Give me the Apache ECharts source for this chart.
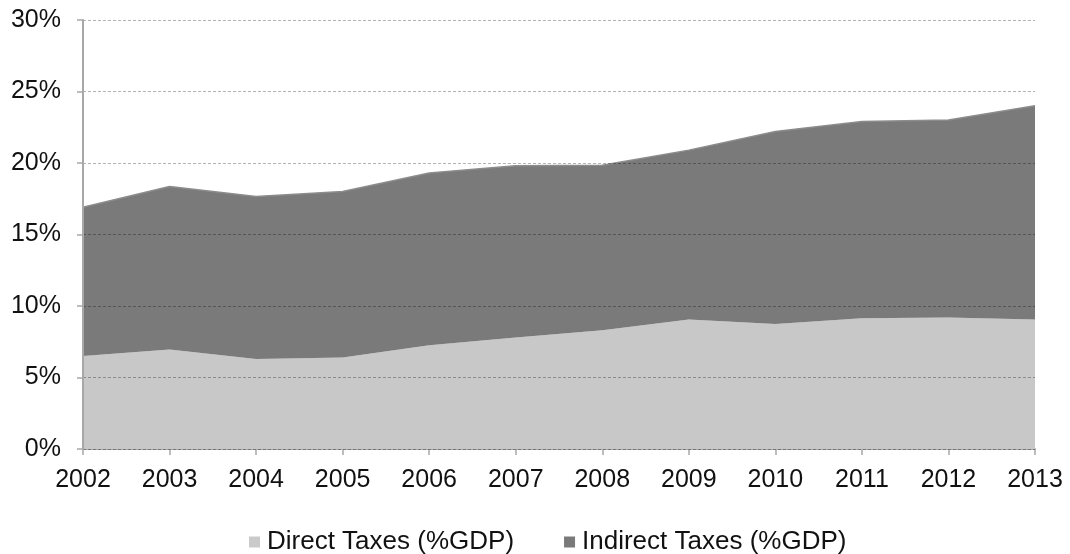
<!DOCTYPE html>
<html><head><meta charset="utf-8">
<script src="https://cdn.jsdelivr.net/npm/echarts@6/dist/echarts.min.js"></script>
<style>html,body{margin:0;padding:0;background:#fff}#c{width:1070px;height:554px}</style>
</head><body><div id="c"></div>
<script>
const years = ['2002','2003','2004','2005','2006','2007','2008','2009','2010','2011','2012','2013'];
const directTaxes = [6.5, 6.95, 6.3, 6.4, 7.25, 7.8, 8.3, 9.05, 8.75, 9.15, 9.2, 9.05];
const indirectTaxes = [10.4, 11.4, 11.35, 11.6, 12.05, 12.0, 11.55, 11.85, 13.45, 13.75, 13.8, 14.95];
const seriesNames = ['Direct Taxes (%GDP)', 'Indirect Taxes (%GDP)'];

const chart = echarts.init(document.getElementById('c'), null, {renderer:'canvas'});
const font = '"Liberation Sans", Arial, Helvetica, sans-serif';
chart.setOption({
  animation: false,
  backgroundColor: '#ffffff',
  grid: {left: 83, right: 35, top: 20, bottom: 105, containLabel: false},
  legend: {
    top: 524, left: 244, padding: 5, itemWidth: 11, itemHeight: 11, itemGap: 50,
    icon: 'rect',
    textStyle: {fontFamily: font, fontSize: 26, color: '#111', padding: [0,0,0,2]},
    data: seriesNames
  },
  xAxis: {
    type: 'category', data: years, boundaryGap: false,
    axisLine: {show: true, lineStyle: {color: '#a8a8a8', width: 2}},
    axisTick: {show: true, alignWithLabel: true, length: 6, lineStyle: {color: '#a8a8a8', width: 1.5}},
    axisLabel: {fontFamily: font, fontSize: 25, color: '#111', margin: 19, interval: 0},
    splitLine: {show: false}
  },
  yAxis: {
    type: 'value', min: 0, max: 30, interval: 5, z: 10,
    axisLine: {show: true, lineStyle: {color: '#a8a8a8', width: 2}},
    axisTick: {show: true, length: 6, lineStyle: {color: '#a8a8a8', width: 1.5}},
    axisLabel: {fontFamily: font, fontSize: 25, color: '#111', margin: 22, padding: [5,0,0,0], formatter: v => v + '%'},
    splitLine: {show: true, lineStyle: {color: 'rgba(0,0,0,0.3)', type: [3,2], width: 1}}
  },
  series: [
    {
      name: seriesNames[0], type: 'line', stack: 'tax', data: directTaxes,
      symbol: 'none', smooth: false,
      itemStyle: {color: '#cacaca'},
      lineStyle: {width: 0, color: '#cacaca'},
      areaStyle: {color: '#c8c8c8', opacity: 1}
    },
    {
      name: seriesNames[1], type: 'line', stack: 'tax', data: indirectTaxes,
      symbol: 'none', smooth: false,
      itemStyle: {color: '#7a7a7a'},
      lineStyle: {width: 1.5, color: '#8c8c8c'},
      areaStyle: {color: '#7a7a7a', opacity: 1}
    }
  ]
});
</script></body></html>
